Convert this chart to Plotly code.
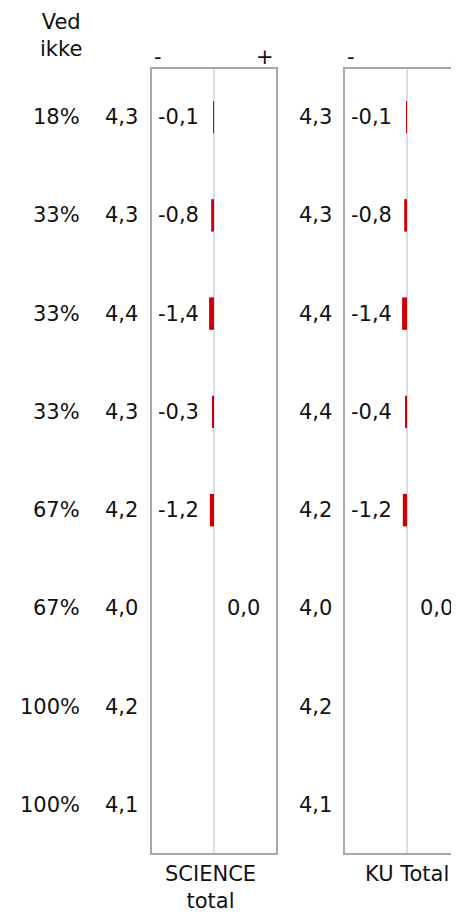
import plotly.graph_objects as go

# ---- data ----
rows = [0, 1, 2, 3, 4, 5, 6, 7]
ved_ikke = ["18%", "33%", "33%", "33%", "67%", "67%", "100%", "100%"]
science_mean = [4.3, 4.3, 4.4, 4.3, 4.2, 4.0, 4.2, 4.1]
science_diff = [-0.1, -0.8, -1.4, -0.3, -1.2, 0.0, None, None]
ku_mean = [4.3, 4.3, 4.4, 4.4, 4.2, 4.0, 4.2, 4.1]
ku_diff = [-0.1, -0.8, -1.4, -0.4, -1.2, 0.0, None, None]
panel_titles = ["SCIENCE<br>total", "KU Total"]
header_left = "Ved<br>ikke"

# page body has an 8px default margin; work in reference-page pixels
OFF = 8
W, H = 459 - OFF, 912 - OFF
FONT = "DejaVu Sans, Verdana, sans-serif"
FS = 21
BAR_COLOR = "#cc0000"

def px(x):
    return (x - OFF) / W

def py(y):
    return 1 - (y - OFF) / H

top, bottom = 68, 854
p1 = (151, 277)
p2 = (344, 470)
scale = 3.5  # px per unit

def fmt(v):
    return f"{v:.1f}".replace(".", ",")

fig = go.Figure()
fig.add_trace(go.Bar(x=science_diff, y=rows, orientation="h", width=0.33,
                     marker=dict(color=BAR_COLOR, line=dict(width=0)),
                     xaxis="x", yaxis="y", showlegend=False, hoverinfo="skip"))
fig.add_trace(go.Bar(x=ku_diff, y=rows, orientation="h", width=0.33,
                     marker=dict(color=BAR_COLOR, line=dict(width=0)),
                     xaxis="x2", yaxis="y", showlegend=False, hoverinfo="skip"))

c1 = (p1[0] + p1[1]) / 2
c2 = (p2[0] + p2[1]) / 2
r1 = [-(c1 - p1[0]) / scale, (p1[1] - c1) / scale]
r2 = [-(c2 - p2[0]) / scale, (459 - c2) / scale]

axis_common = dict(showgrid=False, showticklabels=False, ticks="", zeroline=True,
                   zerolinecolor="#dcdcf0", zerolinewidth=2, fixedrange=True)
fig.update_layout(
    width=W, height=H,
    margin=dict(l=0, r=0, t=0, b=0),
    paper_bgcolor="white", plot_bgcolor="white",
    font=dict(family=FONT, size=FS, color="#111"),
    barmode="overlay",
    xaxis=dict(domain=[px(p1[0]), px(p1[1])], range=r1, **axis_common),
    xaxis2=dict(domain=[px(p2[0]), 1.0], range=r2, anchor="y", **axis_common),
    yaxis=dict(domain=[py(bottom), py(top)], range=[7.5, -0.5], showgrid=False,
               showticklabels=False, ticks="", zeroline=False, fixedrange=True),
)

shapes = []
for (a, b) in (p1, p2):
    shapes.append(dict(type="rect", xref="paper", yref="paper",
                       x0=px(a), x1=px(b), y0=py(bottom), y1=py(top),
                       line=dict(color="#a8a8a8", width=2), layer="above"))
fig.update_layout(shapes=shapes)

ann = []
def A(text, x, y, xanchor="center", yref="paper", yanchor="middle"):
    ann.append(dict(text=text, x=x, y=y, xref="paper", yref=yref,
                    xanchor=xanchor, yanchor=yanchor, showarrow=False,
                    font=dict(family=FONT, size=FS, color="#111")))

A(header_left, px(61), py(8), yanchor="top")
for (a, b) in (p1, p2):
    A("-", px(a + 1), py(57), xanchor="left")
    A("+", px(b - 1), py(57), xanchor="right")

for i, r in enumerate(rows):
    A(ved_ikke[i], px(82), r, xanchor="right", yref="y")
    A(fmt(science_mean[i]), px(140), r, xanchor="right", yref="y")
    A(fmt(ku_mean[i]), px(334), r, xanchor="right", yref="y")
    for (a, b), diffs in ((p1, science_diff), (p2, ku_diff)):
        d = diffs[i]
        if d is None:
            continue
        if d < 0:
            A(fmt(d), px(a + 5), r, xanchor="left", yref="y")
        else:
            A(fmt(d), px(b - 15), r, xanchor="right", yref="y")

A(panel_titles[0], px(210), py(860), yanchor="top")
A(panel_titles[1], px(407), py(860), yanchor="top")

fig.update_layout(annotations=ann)
fig.write_html("out.html")
